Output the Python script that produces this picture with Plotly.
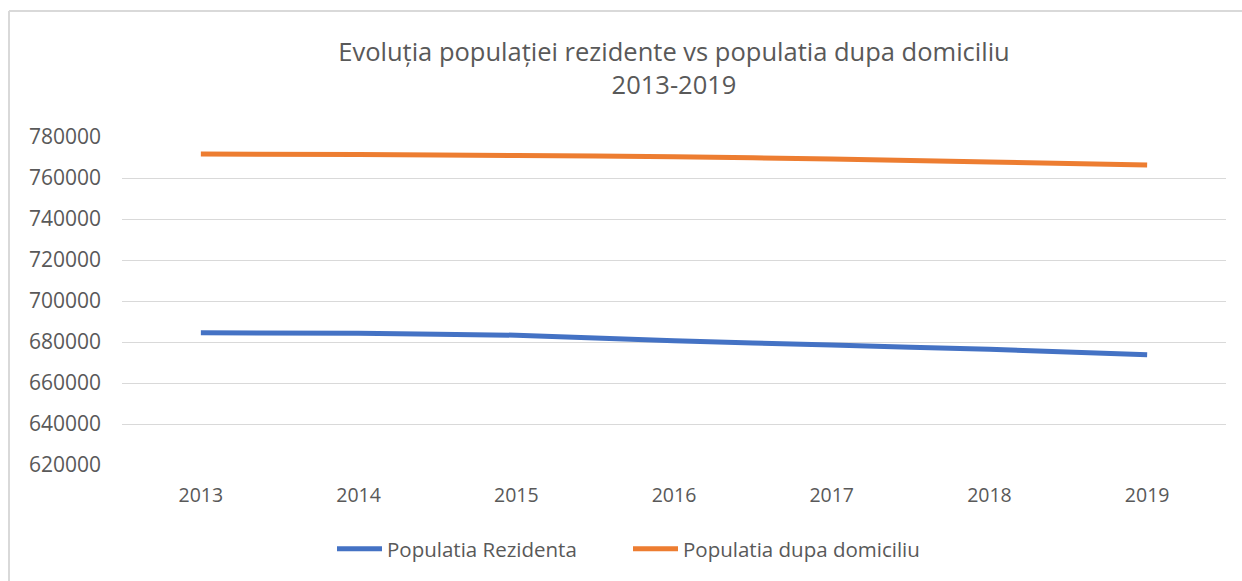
import plotly.graph_objects as go

years = ["2013", "2014", "2015", "2016", "2017", "2018", "2019"]
rezidenta = [684500, 684250, 683300, 680600, 678500, 676450, 673800]
domiciliu = [771700, 771500, 771000, 770400, 769300, 767800, 766300]
y_ticks = [620000, 640000, 660000, 680000, 700000, 720000, 740000, 760000, 780000]

FONT = "Open Sans"
TXT = "#595959"

fig = go.Figure()
fig.add_trace(go.Scatter(x=years, y=rezidenta, mode="lines", name="Populatia Rezidenta",
                         line=dict(color="#4472C4", width=5, shape="spline", smoothing=0.4)))
fig.add_trace(go.Scatter(x=years, y=domiciliu, mode="lines", name="Populatia dupa domiciliu",
                         line=dict(color="#ED7D31", width=5, shape="spline", smoothing=0.4)))

L, R, T, B = 122, 1226, 137, 465
W, H = 1242, 581
pw, ph = R - L, B - T

def px(x):
    return (x - L) / pw

def py(y):
    return (B - y) / ph

fig.update_layout(
    width=W, height=H,
    margin=dict(l=L, r=W - R, t=T, b=H - B, autoexpand=False),
    paper_bgcolor="white", plot_bgcolor="white",
    font=dict(family=FONT, color=TXT, size=20),
    title=dict(text="Evoluția populației rezidente vs populatia dupa domiciliu<br>2013-2019",
               x=0.5, xref="paper", xanchor="center", y=1 - 61 / H, yanchor="middle",
               font=dict(family=FONT, size=25.5, color=TXT)),
    xaxis=dict(type="category", showgrid=False, showline=False, zeroline=False,
               ticks="", tickfont=dict(size=19.5, color=TXT), range=[-0.5, 6.5],
               ticklabelstandoff=16),
    yaxis=dict(range=[620000, 780000], tickvals=y_ticks, ticktext=[str(v) for v in y_ticks],
               showgrid=True, gridcolor="#D9D9D9", gridwidth=1.3, zeroline=False,
               showline=False, ticks="", tickfont=dict(size=21, color=TXT), ticklabelstandoff=20),
    legend=dict(orientation="h", x=0.5 - 46 / pw, xanchor="center", y=py(549), yanchor="middle",
                font=dict(size=20.5, color=TXT), itemwidth=45, tracegroupgap=0,
                entrywidth=236, entrywidthmode="pixels"),
    showlegend=True,
)

# outer chart border (left and top)
fig.add_shape(type="line", xref="paper", yref="paper", x0=px(9), x1=px(9), y0=py(11), y1=py(600),
              line=dict(color="#D9D9D9", width=2))
fig.add_shape(type="line", xref="paper", yref="paper", x0=px(9), x1=px(1260), y0=py(11), y1=py(11),
              line=dict(color="#D9D9D9", width=2))

fig.write_html("out.html", config={"displayModeBar": False},
               post_script="document.body.style.margin='0';document.body.style.overflow='hidden';")
